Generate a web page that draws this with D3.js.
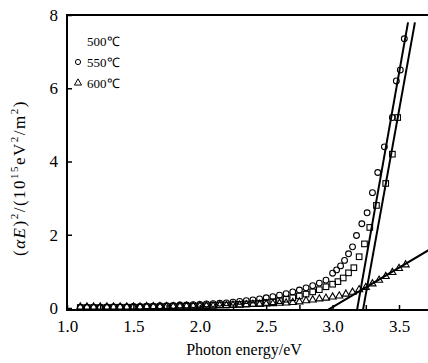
<!DOCTYPE html>
<html>
<head>
<meta charset="utf-8">
<style>
  body { margin: 0; background: #fff; }
  svg { display: block; }
  svg text { font-family: "Liberation Serif", "Times New Roman", serif; }
</style>
</head>
<body>
<svg id="chart" width="428" height="363"></svg>
<script src="https://cdn.jsdelivr.net/npm/d3@7"></script>
<script>
// 500℃ (square markers)
var e500 = [1.10,1.15,1.20,1.25,1.30,1.35,1.40,1.45,1.50,1.55,1.60,1.65,1.70,1.75,1.80,1.85,1.90,1.95,2.00,2.05,2.10,2.15,2.20,2.25,2.30,2.35,2.40,2.45,2.50,2.55,2.60,2.65,2.70,2.75,2.80,2.85,2.90,2.95,3.00,3.04,3.08,3.12,3.16,3.20,3.24,3.28,3.33,3.40,3.45,3.49];
var v500 = [0.01,0.01,0.01,0.01,0.01,0.02,0.02,0.02,0.02,0.02,0.03,0.03,0.03,0.04,0.04,0.04,0.05,0.05,0.06,0.06,0.07,0.08,0.08,0.09,0.10,0.11,0.12,0.13,0.15,0.17,0.20,0.24,0.28,0.33,0.38,0.44,0.50,0.58,0.65,0.72,0.82,0.96,1.10,1.40,1.75,2.20,2.80,3.40,4.20,5.20];
// 550℃ (circle markers)
var e550 = [1.10,1.15,1.20,1.25,1.30,1.35,1.40,1.45,1.50,1.55,1.60,1.65,1.70,1.75,1.80,1.85,1.90,1.95,2.00,2.05,2.10,2.15,2.20,2.25,2.30,2.35,2.40,2.45,2.50,2.55,2.60,2.65,2.70,2.75,2.80,2.85,2.90,2.95,3.00,3.03,3.06,3.09,3.12,3.15,3.18,3.22,3.26,3.30,3.34,3.39,3.45,3.48,3.51,3.54];
var v550 = [0.02,0.02,0.02,0.02,0.03,0.03,0.03,0.03,0.04,0.04,0.05,0.05,0.06,0.06,0.07,0.08,0.08,0.09,0.10,0.11,0.12,0.13,0.14,0.16,0.18,0.20,0.22,0.25,0.28,0.31,0.35,0.39,0.44,0.49,0.55,0.61,0.68,0.76,0.95,1.04,1.15,1.30,1.48,1.67,1.98,2.30,2.60,3.15,3.70,4.40,5.20,6.20,6.50,7.35];
// 600℃ (triangle markers)
var e600 = [1.10,1.15,1.20,1.25,1.30,1.35,1.40,1.45,1.50,1.55,1.60,1.65,1.70,1.75,1.80,1.85,1.90,1.95,2.00,2.05,2.10,2.15,2.20,2.25,2.30,2.35,2.40,2.45,2.50,2.55,2.60,2.65,2.70,2.75,2.80,2.85,2.90,2.95,3.00,3.05,3.10,3.15,3.20,3.25,3.30,3.35,3.40,3.45,3.50,3.55];
var v600 = [0.03,0.03,0.03,0.03,0.03,0.03,0.03,0.03,0.03,0.03,0.04,0.04,0.04,0.04,0.04,0.05,0.05,0.05,0.06,0.06,0.06,0.07,0.07,0.08,0.08,0.09,0.10,0.10,0.11,0.12,0.13,0.14,0.15,0.17,0.20,0.22,0.25,0.27,0.30,0.33,0.38,0.43,0.50,0.56,0.66,0.76,0.86,0.97,1.08,1.18];

// linear fits [E, value] endpoints
var fit550 = [[3.184,-0.05],[3.568,7.8]];
var fit500 = [[3.229,-0.05],[3.620,7.8]];
var fit600 = [[2.965,-0.05],[3.760,1.66]];

var legendNames = ["500℃","550℃","600℃"];
var xTicks = [1.0,1.5,2.0,2.5,3.0,3.5];
var xMinorTicks = [1.25,1.75,2.25,2.75,3.25];
var yTicks = [0,2,4,6,8];

var chartW = 428;
var padLeft = 67, padTop = 15, axisY = 310;

var svg = d3.select("#chart");
var xScale = d3.scaleLinear().domain([1.0,3.5]).range([padLeft,399]);
var yScale = d3.scaleLinear().domain([0,8]).range([308,padTop]);

// frame: left axis, bottom axis, top line
svg.append("line").attr("x1",padLeft).attr("x2",padLeft).attr("y1",padTop).attr("y2",axisY+1)
  .attr("stroke","#000").attr("stroke-width",2);
svg.append("line").attr("x1",padLeft-1).attr("x2",chartW).attr("y1",axisY).attr("y2",axisY)
  .attr("stroke","#000").attr("stroke-width",2);
svg.append("line").attr("x1",padLeft-1).attr("x2",chartW).attr("y1",padTop).attr("y2",padTop)
  .attr("stroke","#000").attr("stroke-width",2);

// x axis (ticks point inward)
var xAxis = d3.axisBottom(xScale).tickValues(xTicks).tickSizeInner(-5).tickSizeOuter(0)
  .tickPadding(10).tickFormat(d3.format(".1f"));
var gx = svg.append("g").attr("transform","translate(0,"+axisY+")").call(xAxis)
  .attr("font-family",null).attr("font-size",null);
gx.select(".domain").remove();
gx.selectAll("line").attr("stroke-width",1.5);
gx.selectAll("text").attr("font-size","17px").attr("fill","#000");
var gxm = svg.append("g").attr("transform","translate(0,"+axisY+")")
  .call(d3.axisBottom(xScale).tickValues(xMinorTicks).tickSizeInner(-5).tickSizeOuter(0).tickFormat(""));
gxm.select(".domain").remove();
gxm.selectAll("line").attr("stroke-width",1.5);

// y axis
var yAxis = d3.axisLeft(yScale).tickValues(yTicks).tickSizeInner(-5).tickSizeOuter(0).tickPadding(9);
var gy = svg.append("g").attr("transform","translate("+padLeft+",0)").call(yAxis)
  .attr("font-family",null).attr("font-size",null);
gy.select(".domain").remove();
gy.selectAll("line").attr("stroke-width",1.5);
gy.selectAll("text").attr("font-size","17px").attr("fill","#000");

// data markers
var plot = svg.append("g");
function pairs(e,v){ return e.map(function(d,i){ return [d,v[i]]; }); }

plot.selectAll(".sq").data(pairs(e500,v500)).enter().append("rect")
  .attr("x",function(d){ return xScale(d[0])-2.8; })
  .attr("y",function(d){ return yScale(d[1])-2.8; })
  .attr("width",5.6).attr("height",5.6)
  .attr("fill","none").attr("stroke","#000").attr("stroke-width",1.1);

plot.selectAll(".ci").data(pairs(e550,v550)).enter().append("circle")
  .attr("cx",function(d){ return xScale(d[0]); })
  .attr("cy",function(d){ return yScale(d[1]); })
  .attr("r",2.9)
  .attr("fill","none").attr("stroke","#000").attr("stroke-width",1.1);

var tri = d3.symbol().type(d3.symbolTriangle).size(22);
plot.selectAll(".tr").data(pairs(e600,v600)).enter().append("path")
  .attr("d",tri)
  .attr("transform",function(d){ return "translate("+xScale(d[0])+","+yScale(d[1])+")"; })
  .attr("fill","none").attr("stroke","#000").attr("stroke-width",1.1);

// fit lines
var line = d3.line().x(function(d){ return xScale(d[0]); }).y(function(d){ return yScale(d[1]); });
[fit550,fit500,fit600].forEach(function(f){
  plot.append("path").attr("d",line(f)).attr("fill","none").attr("stroke","#000").attr("stroke-width",2);
});

// legend
var lg = svg.append("g").attr("font-size","13px").attr("fill","#000");
lg.append("text").attr("x",87).attr("y",46).text(legendNames[0]);
lg.append("circle").attr("cx",78).attr("cy",62).attr("r",2.6).attr("fill","none").attr("stroke","#000");
lg.append("text").attr("x",87).attr("y",67).text(legendNames[1]);
lg.append("path").attr("d",tri).attr("transform","translate(78,83)").attr("fill","none").attr("stroke","#000");
lg.append("text").attr("x",87).attr("y",88).text(legendNames[2]);

// axis titles
svg.append("text").attr("x",244).attr("y",355).attr("text-anchor","middle")
  .attr("font-size","16px").text("Photon energy/eV");

var yt = svg.append("text").attr("transform","translate(25,178) rotate(-90)")
  .attr("text-anchor","middle").attr("font-size","17px").attr("letter-spacing","1.5px");
yt.append("tspan").text("(");
yt.append("tspan").attr("font-style","italic").text("αE");
yt.append("tspan").text(")");
yt.append("tspan").attr("font-size","11px").attr("dy","-7").text("2");
yt.append("tspan").attr("dy","7").text("/(10");
yt.append("tspan").attr("font-size","11px").attr("dy","-7").text("15");
yt.append("tspan").attr("dy","7").text("eV");
yt.append("tspan").attr("font-size","11px").attr("dy","-7").text("2");
yt.append("tspan").attr("dy","7").text("/m");
yt.append("tspan").attr("font-size","11px").attr("dy","-7").text("2");
yt.append("tspan").attr("dy","7").text(")");
</script>
</body>
</html>
